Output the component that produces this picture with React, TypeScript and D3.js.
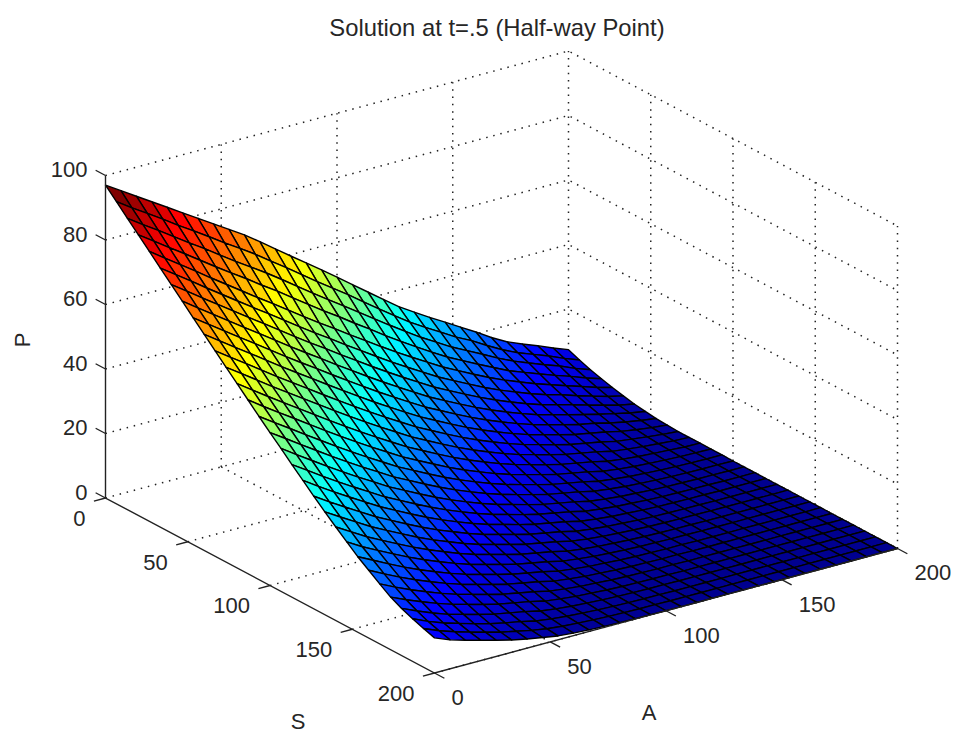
import React, { useEffect, useRef } from 'react';
import * as d3 from 'd3';

const title = 'Solution at t=.5 (Half-way Point)';
const pTicks = [0, 20, 40, 60, 80, 100];
const sTicks = [0, 50, 100, 150, 200];
const aTicks = [0, 50, 100, 150, 200];

// P, one row per S step (0..200), one column per A step (0..200)
const surfaceP: number[][] = [
  [97.0,94.0,91.0,88.0,85.0,82.0,79.0,76.0,73.0,70.0,66.6,63.1,59.6,56.2,52.7,49.2,45.6,42.0,38.4,34.9,31.9,29.0,26.2,23.4,20.6,17.6,15.0,13.0,11.2,9.2,7.4],
  [93.7,90.5,87.5,84.4,81.2,78.2,75.1,71.9,68.9,65.8,62.4,59.1,55.6,52.2,48.9,45.6,42.0,38.6,35.2,31.9,29.0,26.2,23.4,21.0,18.2,15.6,13.4,11.6,9.8,7.8,6.0],
  [90.3,87.1,84.0,80.8,77.6,74.5,71.2,68.0,64.9,61.8,58.5,55.1,51.7,48.4,45.2,41.9,38.6,35.3,32.1,29.0,26.2,23.4,21.0,18.6,16.1,13.9,12.0,10.2,8.5,6.5,4.8],
  [87.0,83.8,80.5,77.3,74.0,70.7,67.5,64.4,61.1,58.0,54.6,51.3,48.0,44.9,41.6,38.5,35.2,32.1,29.1,26.2,23.4,21.0,18.6,16.3,14.0,12.2,10.4,8.7,7.1,5.3,3.8],
  [83.7,80.3,77.0,73.7,70.3,67.0,63.7,60.4,57.2,53.9,50.6,47.4,44.3,41.1,38.0,34.9,31.9,29.0,26.2,23.4,21.0,18.6,16.3,14.2,12.3,10.5,8.9,7.3,5.8,4.2,2.9],
  [80.3,77.0,73.7,70.3,67.0,63.7,60.4,57.2,53.9,50.6,47.4,44.3,41.1,38.0,34.9,31.9,29.0,26.2,23.4,21.0,18.6,16.3,14.2,12.3,10.5,8.9,7.6,6.0,4.6,3.2,2.1],
  [77.0,73.7,70.3,67.0,63.7,60.4,57.2,53.9,50.6,47.4,44.3,41.1,38.0,34.9,31.9,29.0,26.2,23.4,21.0,18.6,16.3,14.2,12.3,10.5,8.9,7.6,6.3,4.9,3.6,2.3,1.4],
  [73.7,70.3,67.0,63.7,60.4,57.2,53.9,50.6,47.4,44.3,41.1,38.0,34.9,31.9,29.0,26.2,23.4,21.0,18.6,16.3,14.2,12.3,10.5,8.9,7.6,6.3,5.1,3.9,2.8,1.7,0.9],
  [70.3,67.0,63.7,60.4,57.2,53.9,50.6,47.4,44.3,41.1,38.0,34.9,31.9,29.0,26.2,23.4,21.0,18.6,16.3,14.2,12.3,10.5,8.9,7.6,6.3,5.1,4.2,3.0,2.0,1.2,0.5],
  [67.0,63.7,60.4,57.2,53.9,50.6,47.4,44.3,41.1,38.0,34.9,31.9,29.0,26.2,23.4,21.0,18.6,16.3,14.2,12.3,10.5,8.9,7.6,6.3,5.1,4.2,3.3,2.2,1.4,0.8,0.3],
  [63.7,60.4,57.2,53.9,50.6,47.4,44.3,41.1,38.0,34.9,31.9,29.0,26.2,23.4,21.0,18.6,16.3,14.2,12.3,10.5,8.9,7.6,6.3,5.1,4.2,3.3,2.2,1.6,1.0,0.5,0.1],
  [60.4,57.2,53.9,50.6,47.4,44.3,41.1,38.0,34.9,31.9,29.0,26.2,23.4,21.0,18.6,16.3,14.2,12.3,10.5,8.9,7.6,6.3,5.1,4.2,3.3,2.2,1.6,1.1,0.7,0.3,0.1],
  [57.2,53.9,50.6,47.4,44.3,41.1,38.0,34.9,31.9,29.0,26.2,23.4,21.0,18.6,16.3,14.2,12.3,10.5,8.9,7.6,6.3,5.1,4.2,3.3,2.2,1.6,1.1,0.8,0.5,0.2,0.1],
  [53.9,50.6,47.4,44.3,41.1,38.0,34.9,31.9,29.0,26.2,23.4,21.0,18.6,16.3,14.2,12.3,10.5,8.9,7.6,6.3,5.1,4.2,3.3,2.2,1.6,1.1,0.8,0.5,0.3,0.2,0.1],
  [50.6,47.4,44.3,41.1,38.0,34.9,31.9,29.0,26.2,23.4,21.0,18.6,16.3,14.2,12.3,10.5,8.9,7.6,6.3,5.1,4.2,3.3,2.2,1.6,1.1,0.8,0.5,0.3,0.2,0.1,0.1],
  [47.4,44.3,41.1,38.0,34.9,31.9,29.0,26.2,23.4,21.0,18.6,16.3,14.2,12.3,10.5,8.9,7.6,6.3,5.1,4.2,3.3,2.2,1.6,1.1,0.8,0.5,0.3,0.2,0.1,0.1,0],
  [44.3,41.1,38.0,34.9,31.9,29.0,26.2,23.4,21.0,18.6,16.3,14.2,12.3,10.5,8.9,7.6,6.3,5.1,4.2,3.3,2.2,1.6,1.1,0.8,0.5,0.3,0.2,0.1,0.1,0,0],
  [41.1,38.0,34.9,31.9,29.0,26.2,23.4,21.0,18.6,16.3,14.2,12.3,10.5,8.9,7.6,6.3,5.1,4.2,3.3,2.2,1.6,1.1,0.8,0.5,0.3,0.2,0.1,0.1,0,0,0],
  [38.0,34.9,31.9,29.0,26.2,23.4,21.0,18.6,16.3,14.2,12.3,10.5,8.9,7.6,6.3,5.1,4.2,3.3,2.2,1.6,1.1,0.8,0.5,0.3,0.2,0.1,0.1,0,0,0,0],
  [34.9,31.9,29.0,26.2,23.4,21.0,18.6,16.3,14.2,12.3,10.5,8.9,7.6,6.3,5.1,4.2,3.3,2.2,1.6,1.1,0.8,0.5,0.3,0.2,0.1,0.1,0,0,0,0,0],
  [31.9,29.0,26.2,23.4,21.0,18.6,16.3,14.2,12.3,10.5,8.9,7.6,6.3,5.1,4.2,3.3,2.2,1.6,1.1,0.8,0.5,0.3,0.2,0.1,0.1,0,0,0,0,0,0],
  [29.0,26.2,23.4,21.0,18.6,16.3,14.2,12.3,10.5,8.9,7.6,6.3,5.1,4.2,3.3,2.2,1.6,1.1,0.8,0.5,0.3,0.2,0.1,0.1,0,0,0,0,0,0,0],
  [26.2,23.4,21.0,18.6,16.3,14.2,12.3,10.5,8.9,7.6,6.3,5.1,4.2,3.3,2.2,1.6,1.1,0.8,0.5,0.3,0.2,0.1,0.1,0,0,0,0,0,0,0,0],
  [23.4,21.0,18.6,16.3,14.2,12.3,10.5,8.9,7.6,6.3,5.1,4.2,3.3,2.2,1.6,1.1,0.8,0.5,0.3,0.2,0.1,0.1,0,0,0,0,0,0,0,0,0],
  [21.0,18.6,16.3,14.2,12.3,10.5,8.9,7.6,6.3,5.1,4.2,3.3,2.2,1.6,1.1,0.8,0.5,0.3,0.2,0.1,0.1,0,0,0,0,0,0,0,0,0,0],
  [18.6,16.3,14.2,12.3,10.5,8.9,7.6,6.3,5.1,4.2,3.3,2.2,1.6,1.1,0.8,0.5,0.3,0.2,0.1,0.1,0,0,0,0,0,0,0,0,0,0,0],
  [16.3,14.2,12.3,10.5,8.9,7.6,6.3,5.1,4.2,3.3,2.2,1.6,1.1,0.8,0.5,0.3,0.2,0.1,0.1,0,0,0,0,0,0,0,0,0,0,0,0],
  [14.6,12.5,10.6,8.9,7.6,6.3,5.1,4.2,3.3,2.2,1.6,1.1,0.8,0.5,0.3,0.2,0.1,0.1,0,0,0,0,0,0,0,0,0,0,0,0,0],
  [13.2,11.1,9.3,7.9,6.5,5.2,4.2,3.3,2.2,1.6,1.1,0.8,0.5,0.3,0.2,0.1,0.1,0,0,0,0,0,0,0,0,0,0,0,0,0,0],
  [12.0,10.0,8.4,7.0,5.7,4.4,3.4,2.4,1.6,1.1,0.8,0.5,0.3,0.2,0.1,0.1,0,0,0,0,0,0,0,0,0,0,0,0,0,0,0],
  [10.9,9.0,7.6,6.3,5.0,3.8,2.8,2.0,1.2,0.8,0.5,0.3,0.2,0.1,0.1,0,0,0,0,0,0,0,0,0,0,0,0,0,0,0,0],
];

// MATLAB jet
const jetStops = [0, 0.125, 0.375, 0.625, 0.875, 1];
const jetColors = ['#000090', '#0000ff', '#00ffff', '#ffff00', '#ff0000', '#800000'];

const WIDTH = 956;
const HEIGHT = 736;
const FONT = '"Liberation Sans", Arial, sans-serif';
const TEXT = '#262626';

const App = () => {
  const ref = useRef<SVGSVGElement>(null);

  useEffect(() => {
    if (!ref.current) return;
    const svg = d3.select(ref.current);
    svg.selectAll('*').remove();

    // oblique projection, one scale per screen component
    const sToX = d3.scaleLinear().domain([0, 200]).range([0, 329]);
    const sToY = d3.scaleLinear().domain([0, 200]).range([0, 175]);
    const aToX = d3.scaleLinear().domain([0, 200]).range([0, 463]);
    const aToY = d3.scaleLinear().domain([0, 200]).range([0, -124.5]);
    const pToY = d3.scaleLinear().domain([0, 100]).range([0, -322.5]);
    const project = (s: number, a: number, p: number): [number, number] => [
      105.5 + sToX(s) + aToX(a),
      498 + sToY(s) + aToY(a) + pToY(p),
    ];

    const line = d3.line();
    const grid = svg.append('g')
      .attr('fill', 'none')
      .attr('stroke', '#222')
      .attr('stroke-width', 1.5)
      .attr('stroke-dasharray', '1.5 5.8');
    const dotted = (pts: [number, number][]) => grid.append('path').attr('d', line(pts));

    // back walls
    pTicks.forEach(p => {
      dotted([project(0, 0, p), project(0, 200, p), project(200, 200, p)]);
    });
    aTicks.slice(1).forEach(a => {
      dotted([project(0, a, 0), project(0, a, 100)]);
    });
    sTicks.slice(1).forEach(s => {
      dotted([project(s, 200, 0), project(s, 200, 100)]);
    });
    // floor
    sTicks.slice(1).forEach(s => {
      dotted([project(s, 0, 0), project(s, 200, 0)]);
    });
    aTicks.slice(1).forEach(a => {
      dotted([project(0, a, 0), project(200, a, 0)]);
    });

    // surface, far corner first
    const pMax = d3.max(surfaceP.flat()) as number;
    const jet = d3.scaleLinear<string>()
      .domain(jetStops.map(d => d * pMax))
      .range(jetColors)
      .clamp(true);
    const sAt = d3.scaleLinear().domain([0, surfaceP.length - 1]).range([0, 200]);
    const aAt = d3.scaleLinear().domain([0, surfaceP[0].length - 1]).range([0, 200]);

    const mesh = svg.append('g')
      .attr('stroke', '#000')
      .attr('stroke-width', 1.4)
      .attr('stroke-linejoin', 'round');
    for (let i = 0; i < surfaceP.length - 1; i++) {
      for (let j = surfaceP[0].length - 2; j >= 0; j--) {
        const quad: [number, number][] = [
          project(sAt(i), aAt(j), surfaceP[i][j]),
          project(sAt(i), aAt(j + 1), surfaceP[i][j + 1]),
          project(sAt(i + 1), aAt(j + 1), surfaceP[i + 1][j + 1]),
          project(sAt(i + 1), aAt(j), surfaceP[i + 1][j]),
        ];
        mesh.append('path')
          .attr('d', line(quad) + 'Z')
          .attr('fill', jet(surfaceP[i][j]));
      }
    }

    // solid axes and ticks
    const axes = svg.append('g').attr('fill', 'none').attr('stroke', '#222').attr('stroke-width', 1.4);
    axes.append('path').attr('d', line([project(0, 0, 100), project(0, 0, 0), project(200, 0, 0), project(200, 200, 0)]));
    pTicks.forEach(p => {
      axes.append('path').attr('d', line([project(0, 0, p), project(-6, 0, p)]));
    });
    sTicks.forEach(s => {
      axes.append('path').attr('d', line([project(s, 0, 0), project(s, -5, 0)]));
    });
    aTicks.forEach(a => {
      axes.append('path').attr('d', line([project(200, a, 0), project(206, a, 0)]));
    });

    // text
    const label = (x: number, y: number, str: string, anchor: string, size = 22) =>
      svg.append('text')
        .attr('x', x)
        .attr('y', y)
        .attr('dy', '0.36em')
        .attr('text-anchor', anchor)
        .attr('font-family', FONT)
        .attr('font-size', size)
        .attr('fill', TEXT)
        .text(str);

    pTicks.forEach(p => {
      const [x, y] = project(0, 0, p);
      label(x - 18, y - 6, String(p), 'end');
    });
    sTicks.forEach(s => {
      const [x, y] = project(s, 0, 0);
      label(x - 20, y + 20, String(s), 'end');
    });
    aTicks.forEach(a => {
      const [x, y] = project(200, a, 0);
      label(x + 17, y + 24, String(a), 'start');
    });

    label(497, 27, title, 'middle', 23.8);
    label(298, 721, 'S', 'middle');
    label(649, 712, 'A', 'middle');
    label(22, 340, 'P', 'middle').attr('transform', 'rotate(-90 22 340)');
  }, []);

  return (
    <svg
      ref={ref}
      width={WIDTH}
      height={HEIGHT}
      style={{ position: 'absolute', left: 0, top: 0, background: '#fff' }}
    />
  );
};

export default App;
